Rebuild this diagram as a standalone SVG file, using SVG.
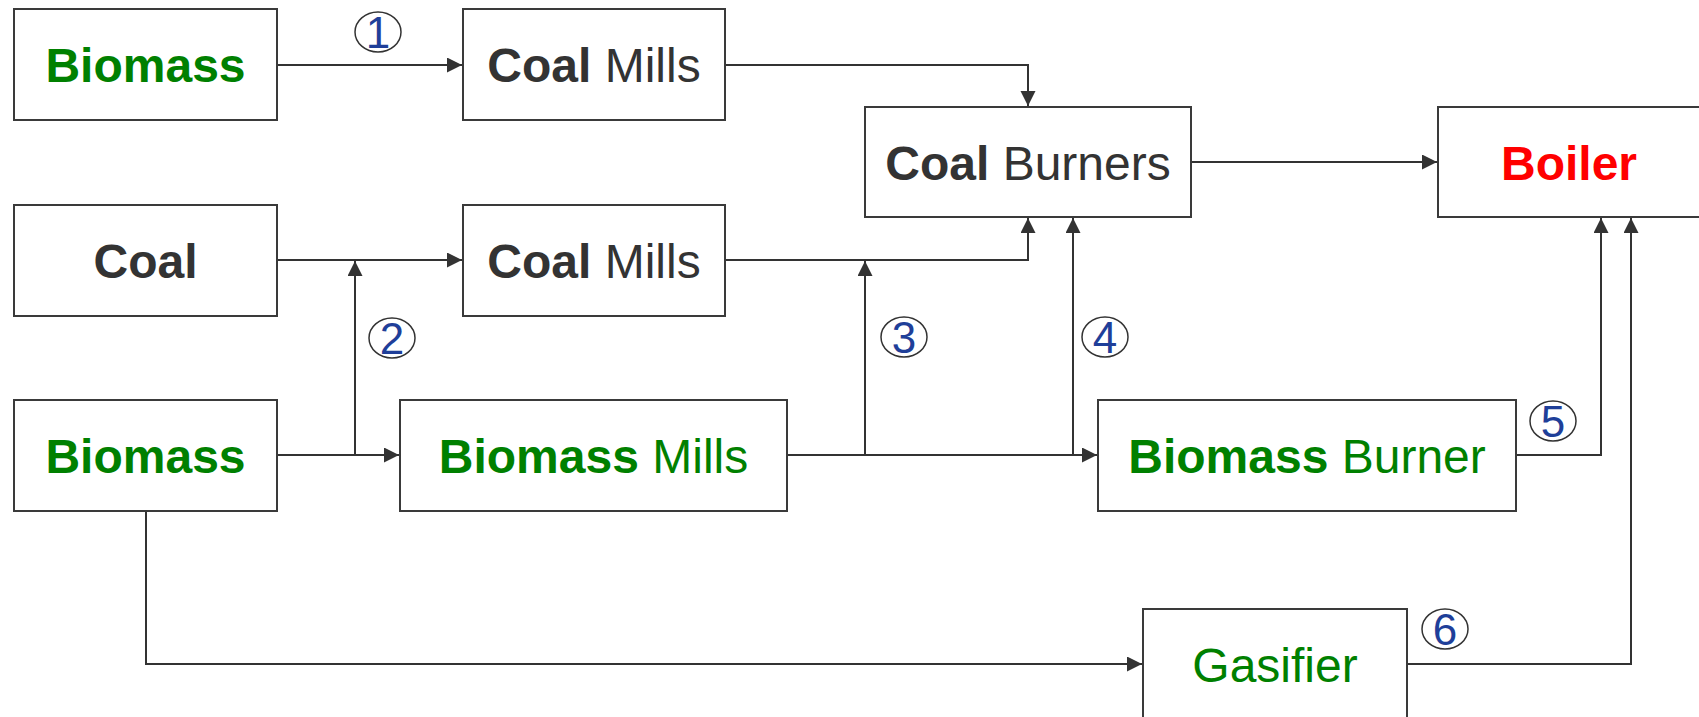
<svg xmlns="http://www.w3.org/2000/svg" width="1699" height="717" viewBox="0 0 1699 717">
<style>
.box{fill:#fff;stroke:#3a3a3a;stroke-width:2}
.lbl{font-family:"Liberation Sans",Arial,sans-serif;font-size:48px;text-anchor:middle}
.b{font-weight:bold}
.g{fill:#008000}
.k{fill:#333}
.r{fill:#ff0000}
.con{fill:none;stroke:#333;stroke-width:2}
.num ellipse{fill:none;stroke:#333;stroke-width:1.5}
.num text{font-family:"Liberation Sans",Arial,sans-serif;font-size:44px;fill:#1f3f99;text-anchor:middle}
</style>
<defs>
<marker id="arr" markerUnits="userSpaceOnUse" markerWidth="16" markerHeight="16" refX="15" refY="7.5" orient="auto">
<path d="M0,0 L15,7.5 L0,15 Z" fill="#333"/>
</marker>
</defs>
<g id="connectors">
<path class="con" d="M277,65 H462" marker-end="url(#arr)"/>
<path class="con" d="M725,65 H1028 V106" marker-end="url(#arr)"/>
<path class="con" d="M1191,162 H1437" marker-end="url(#arr)"/>
<path class="con" d="M277,260 H462" marker-end="url(#arr)"/>
<path class="con" d="M277,455 H399" marker-end="url(#arr)"/>
<path class="con" d="M355,455 V261" marker-end="url(#arr)"/>
<path class="con" d="M725,260 H1028 V218" marker-end="url(#arr)"/>
<path class="con" d="M787,455 H1097" marker-end="url(#arr)"/>
<path class="con" d="M865,455 V261" marker-end="url(#arr)"/>
<path class="con" d="M1073,455 V218" marker-end="url(#arr)"/>
<path class="con" d="M1516,455 H1601 V218" marker-end="url(#arr)"/>
<path class="con" d="M146,511 V664 H1142" marker-end="url(#arr)"/>
<path class="con" d="M1407,664 H1631 V218" marker-end="url(#arr)"/>
</g>
<g id="biomass1"><rect class="box" x="14" y="9" width="263" height="111"/><text class="lbl" x="145.5" y="82"><tspan class="b g">Biomass</tspan></text></g>
<g id="coalmills1"><rect class="box" x="463" y="9" width="262" height="111"/><text class="lbl k" x="594" y="82"><tspan class="b">Coal</tspan> Mills</text></g>
<g id="coalburners"><rect class="box" x="865" y="107" width="326" height="110"/><text class="lbl k" x="1028" y="180"><tspan class="b">Coal</tspan> Burners</text></g>
<g id="boiler"><rect class="box" x="1438" y="107" width="262" height="110"/><text class="lbl b r" x="1569" y="180">Boiler</text></g>
<g id="coal"><rect class="box" x="14" y="205" width="263" height="111"/><text class="lbl b k" x="145.5" y="278">Coal</text></g>
<g id="coalmills2"><rect class="box" x="463" y="205" width="262" height="111"/><text class="lbl k" x="594" y="278"><tspan class="b">Coal</tspan> Mills</text></g>
<g id="biomass2"><rect class="box" x="14" y="400" width="263" height="111"/><text class="lbl b g" x="145.5" y="473">Biomass</text></g>
<g id="biomassmills"><rect class="box" x="400" y="400" width="387" height="111"/><text class="lbl g" x="593.5" y="473"><tspan class="b">Biomass</tspan> Mills</text></g>
<g id="biomassburner"><rect class="box" x="1098" y="400" width="418" height="111"/><text class="lbl g" x="1307" y="473"><tspan class="b">Biomass</tspan> Burner</text></g>
<g id="gasifier"><rect class="box" x="1143" y="609" width="264" height="111"/><text class="lbl g" x="1275" y="682">Gasifier</text></g>
<g id="n1" class="num"><ellipse cx="378" cy="32" rx="23" ry="20"/><text x="378" y="48">1</text></g>
<g id="n2" class="num"><ellipse cx="392" cy="338" rx="23" ry="20"/><text x="392" y="354">2</text></g>
<g id="n3" class="num"><ellipse cx="904" cy="337" rx="23" ry="20"/><text x="904" y="353">3</text></g>
<g id="n4" class="num"><ellipse cx="1105" cy="337" rx="23" ry="20"/><text x="1105" y="353">4</text></g>
<g id="n5" class="num"><ellipse cx="1553" cy="421" rx="23" ry="20"/><text x="1553" y="437">5</text></g>
<g id="n6" class="num"><ellipse cx="1445" cy="629" rx="23" ry="20"/><text x="1445" y="645">6</text></g>
</svg>
